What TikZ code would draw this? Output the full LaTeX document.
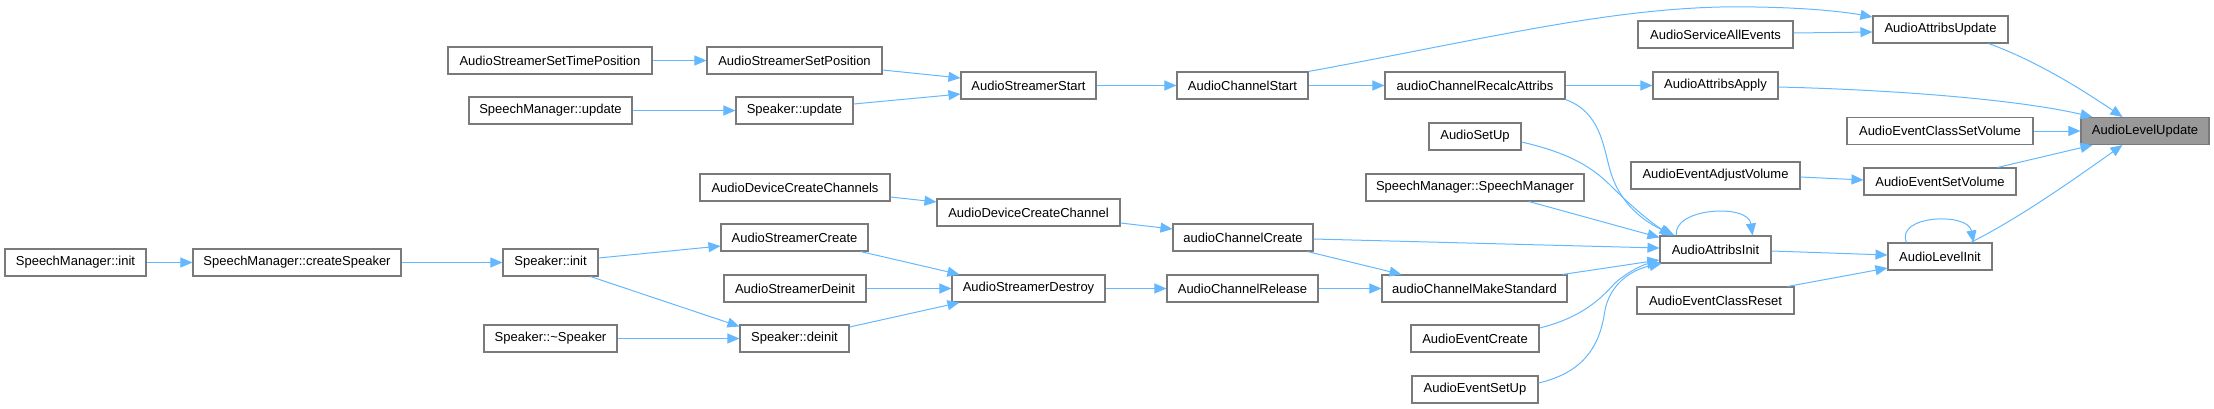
\documentclass[tikz,border=0pt]{standalone}
\usepackage{fontspec}
\setmainfont{Liberation Sans}
\usetikzlibrary{calc,arrows.meta}
\definecolor{edgec}{HTML}{63B8FF}
\definecolor{borderc}{HTML}{7A7A7A}
\definecolor{rootc}{HTML}{999999}
\begin{document}
\begin{tikzpicture}[x=1bp,y=-1bp,
  box/.style={draw=borderc,line width=1.1bp,fill=white,inner sep=0pt,minimum height=27bp,
    font=\fontsize{13bp}{15bp}\selectfont},
  rootbox/.style={box,fill=rootc},
  edge/.style={draw=edgec,line width=1bp,-{Triangle[length=12bp,width=10bp]}}]
\useasboundingbox (0,0) rectangle (2214,408);
% nodes
\node[box,minimum width=141bp] (n1) at (75.5,262.5) {SpeechManager::init};
\node[box,minimum width=208bp] (n2) at (297,262.5) {SpeechManager::createSpeaker};
\node[box,minimum width=204bp] (n3) at (550,60.5) {AudioStreamerSetTimePosition};
\node[box,minimum width=175bp] (n4) at (794.5,60.5) {AudioStreamerSetPosition};
\node[box,minimum width=163bp] (n5) at (550.5,110.5) {SpeechManager::update};
\node[box,minimum width=117bp] (n6) at (794.5,110.5) {Speaker::update};
\node[box,minimum width=190bp] (n7) at (795,187.5) {AudioDeviceCreateChannels};
\node[box,minimum width=147bp] (n8) at (794.5,237.5) {AudioStreamerCreate};
\node[box,minimum width=95bp] (n9) at (550.5,262.5) {Speaker::init};
\node[box,minimum width=142bp] (n10) at (795,288.5) {AudioStreamerDeinit};
\node[box,minimum width=133bp] (n11) at (550.5,338.5) {Speaker::\textasciitilde Speaker};
\node[box,minimum width=109bp] (n12) at (794.5,338.5) {Speaker::deinit};
\node[box,minimum width=135bp] (n13) at (1028.5,85.5) {AudioStreamerStart};
\node[box,minimum width=131bp] (n14) at (1242.5,85.5) {AudioChannelStart};
\node[box,minimum width=183bp] (n15) at (1028.5,212.5) {AudioDeviceCreateChannel};
\node[box,minimum width=140bp] (n16) at (1243,237.5) {audioChannelCreate};
\node[box,minimum width=153bp] (n17) at (1028.5,288.5) {AudioStreamerDestroy};
\node[box,minimum width=151bp] (n18) at (1242.5,288.5) {AudioChannelRelease};
\node[box,minimum width=180bp] (n19) at (1475,85.5) {audioChannelRecalcAttribs};
\node[box,minimum width=92bp] (n20) at (1475,136.5) {AudioSetUp};
\node[box,minimum width=218bp] (n21) at (1475,187.5) {SpeechManager::SpeechManager};
\node[box,minimum width=185bp] (n22) at (1474.5,288.5) {audioChannelMakeStandard};
\node[box,minimum width=128bp] (n23) at (1475,338.5) {AudioEventCreate};
\node[box,minimum width=126bp] (n24) at (1475,389.5) {AudioEventSetUp};
\node[box,minimum width=155bp] (n25) at (1715.5,34.5) {AudioServiceAllEvents};
\node[box,minimum width=125bp] (n26) at (1715.5,85.5) {AudioAttribsApply};
\node[box,minimum width=169bp] (n27) at (1715.5,175.5) {AudioEventAdjustVolume};
\node[box,minimum width=111bp] (n28) at (1715.5,249.5) {AudioAttribsInit};
\node[box,minimum width=157bp] (n29) at (1715.5,300.5) {AudioEventClassReset};
\node[box,minimum width=135bp] (n30) at (1940.5,29.5) {AudioAttribsUpdate};
\node[box,minimum width=186bp] (n31) at (1940,131) {AudioEventClassSetVolume};
\node[rootbox,minimum width=128bp] (n32) at (2145,131) {AudioLevelUpdate};
\node[box,minimum width=152bp] (n33) at (1940,181.5) {AudioEventSetVolume};
\node[box,minimum width=104bp] (n34) at (1940,256.5) {AudioLevelInit};
% edges
\draw[edge] (n1.east) -- (n2.west);
\draw[edge] (n2.east) -- (n9.west);
\draw[edge] (n3.east) -- (n4.west);
\draw[edge] ($(n4.east)+(0,9.5)$) -- ($(n13.west)+(0,-7.5)$);
\draw[edge] (n5.east) -- (n6.west);
\draw[edge] ($(n6.east)+(0,-6.5)$) -- ($(n13.west)+(0,8.5)$);
\draw[edge] ($(n7.east)+(0,9.5)$) -- ($(n15.west)+(0,-10.5)$);
\draw[edge] ($(n9.east)+(0,-4.5)$) -- ($(n8.west)+(0,8.5)$);
\draw[edge] ($(n9.south east)+(-8,0)$) -- ($(n12.north west)+(0,2)$);
\draw[edge] (n11.east) -- (n12.west);
\draw[edge] ($(n8.south east)+(-8,0)$) -- ($(n17.north west)+(8,0)$);
\draw[edge] (n10.east) -- (n17.west);
\draw[edge] ($(n12.east)+(0,-11.5)$) -- ($(n17.south west)+(8,0)$);
\draw[edge] (n13.east) -- (n14.west);
\draw[edge] ($(n15.east)+(0,10.5)$) -- ($(n16.west)+(0,-8.5)$);
\draw[edge] (n17.east) -- (n18.west);
\draw[edge] (n14.east) -- (n19.west);
\draw[edge] (n14.north east) .. controls (1480,40) and (1600,10) .. (1720,7)
  .. controls (1790,6) and (1840,11) .. ($(n30.west)+(0,-12.5)$);
\draw[edge] ($(n16.east)+(0,1.5)$) -- ($(n28.west)+(0,-1.5)$);
\draw[edge] ($(n16.south east)+(-6,0)$) -- ($(n22.north west)+(20,0)$);
\draw[edge] (n18.east) -- (n22.west);
\draw[edge] (n19.east) -- (n26.west);
\draw[edge] (n19.south east) .. controls (1600,112) and (1603,145) .. (1610,170)
  .. controls (1620,205) and (1645,222) .. ($(n28.north west)+(15,0)$);
\draw[edge] ($(n20.east)+(0,5.5)$) .. controls (1565,152) and (1590,165) .. (1610,185)
  .. controls (1630,205) and (1650,222) .. ($(n28.north west)+(12,0)$);
\draw[edge] ($(n21.south)+(54,0)$) -- ($(n28.north west)+(0,2)$);
\draw[edge] ($(n22.north east)+(-5,0)$) -- ($(n28.west)+(0,10.5)$);
\draw[edge] ($(n23.east)+(0,-10.5)$) .. controls (1580,318) and (1600,300) .. (1615,283)
  .. controls (1630,270) and (1645,264) .. ($(n28.south west)+(0,-1)$);
\draw[edge] ($(n24.east)+(0,-6.5)$) .. controls (1585,372) and (1600,345) .. (1605,310)
  .. controls (1610,285) and (1630,270) .. ($(n28.south west)+(2,0)$);
\draw[edge] ($(n28.north west)+(17,0)$) .. controls (1672,208) and (1748,203) .. ($(n28.north east)+(-19,0)$);
\draw[edge] ($(n25.east)+(0,-1.5)$) -- ($(n30.west)+(0,2.5)$);
\draw[edge] ($(n30.south east)+(-20,0)$) .. controls (2040,62) and (2090,95) .. ($(n32.north west)+(42,0)$);
\draw[edge] ($(n26.east)+(0,1.5)$) .. controls (1900,90) and (2020,100) .. ($(n32.north west)+(12,0)$);
\draw[edge] (n31.east) -- (n32.west);
\draw[edge] ($(n27.east)+(0,1.5)$) -- ($(n33.west)+(0,-1.5)$);
\draw[edge] ($(n33.north east)+(-19,0)$) -- ($(n32.south west)+(12,0)$);
\draw[edge] ($(n28.east)+(0,1.5)$) -- ($(n34.west)+(0,-1.5)$);
\draw[edge] ($(n29.north east)+(-7,0)$) -- ($(n34.west)+(0,11.5)$);
\draw[edge] ($(n34.north west)+(19,0)$) .. controls (1895,215) and (1968,212) .. ($(n34.north east)+(-19,0)$);
\draw[edge] ($(n34.north east)+(-22,0)$) .. controls (2020,218) and (2080,175) .. ($(n32.south west)+(42,0)$);
\end{tikzpicture}
\end{document}
